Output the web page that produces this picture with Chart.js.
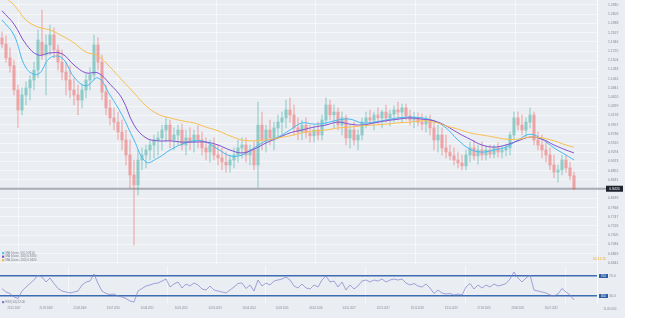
<!DOCTYPE html>
<html>
<head>
<meta charset="utf-8">
<script src="https://cdn.jsdelivr.net/npm/chart.js@4.4.1/dist/chart.umd.min.js"></script>
<style>
  html, body { margin: 0; padding: 0; background: #fff; }
  #wrap { position: relative; width: 651px; height: 318px; overflow: hidden; }
  #panel { position: absolute; left: 0; top: 0; width: 625px; height: 318px; background: #eaedf1; }
  #priceChart { position: absolute; left: 0; top: 0; }
  #rsiChart { position: absolute; left: 0; top: 265px; }
</style>
</head>
<body>
<div id="wrap">
  <div id="panel"></div>
  <canvas id="priceChart" width="625" height="265"></canvas>
  <canvas id="rsiChart" width="625" height="53"></canvas>
</div>
<script>
// candles (one per slot)
const opens = [
  1.204,1.189,1.156,1.137,1.079,1.031,1.067,1.084,1.103,1.127,
  1.194,1.163,1.187,1.211,1.175,1.146,1.122,1.103,1.079,1.067,
  1.055,1.079,1.103,1.115,1.187,1.146,1.074,1.036,1.012,1.002,
  0.978,0.959,0.923,0.875,0.851,0.911,0.923,0.935,0.947,0.959,
  0.964,0.983,0.995,0.959,0.971,0.983,0.947,0.964,0.954,0.971,
  0.959,0.940,0.930,0.947,0.923,0.916,0.906,0.899,0.911,0.923,
  0.940,0.947,0.923,0.935,0.899,0.995,0.959,0.983,0.964,0.988,
  1.002,1.012,1.031,1.019,0.988,0.978,0.995,0.976,0.969,0.983,
  0.971,1.007,1.043,1.019,1.026,0.995,1.012,0.964,0.983,0.959,
  0.971,1.002,1.012,1.007,1.019,1.012,1.026,1.012,1.021,1.031,
  1.026,1.036,1.017,1.007,1.012,1.002,0.997,1.007,0.988,0.959,
  0.971,0.940,0.930,0.921,0.911,0.904,0.897,0.923,0.940,0.921,
  0.935,0.923,0.935,0.925,0.940,0.930,0.935,0.940,0.971,1.012,
  0.995,0.983,1.002,1.019,0.959,0.947,0.935,0.923,0.899,0.882,
  0.887,0.911,0.892,0.873
];
const highs = [
  1.218,1.209,1.180,1.151,1.091,1.084,1.098,1.113,1.146,1.223,
  1.271,1.211,1.235,1.228,1.187,1.175,1.146,1.137,1.108,1.091,
  1.093,1.117,1.132,1.211,1.204,1.163,1.091,1.055,1.036,1.026,
  1.007,0.983,0.959,0.911,0.935,0.940,0.947,0.959,0.971,0.978,
  0.995,1.012,1.007,0.988,0.995,0.997,0.983,0.988,0.983,0.993,
  0.978,0.964,0.959,0.964,0.947,0.940,0.930,0.923,0.940,0.959,
  0.964,0.964,0.947,0.954,1.050,1.026,0.995,1.007,1.002,1.019,
  1.026,1.055,1.060,1.043,1.012,1.007,1.012,0.995,0.993,1.002,
  1.019,1.060,1.055,1.043,1.036,1.026,1.019,0.995,1.002,0.983,
  1.012,1.026,1.031,1.026,1.036,1.031,1.043,1.031,1.041,1.050,
  1.045,1.045,1.031,1.026,1.024,1.021,1.017,1.019,1.007,0.995,
  0.988,0.971,0.947,0.940,0.930,0.923,0.935,0.954,0.959,0.947,
  0.954,0.945,0.947,0.947,0.952,0.945,0.949,0.978,1.026,1.026,
  1.019,1.012,1.036,1.026,0.978,0.971,0.959,0.940,0.923,0.899,
  0.923,0.923,0.906,0.882
];
const lows = [
  1.180,1.146,1.122,1.067,0.988,1.019,1.043,1.055,1.079,1.108,
  1.151,1.067,1.163,1.156,1.127,1.103,1.067,1.060,1.043,1.019,
  1.036,1.060,1.079,1.103,1.127,1.055,1.019,0.995,0.983,0.959,
  0.935,0.899,0.844,0.707,0.827,0.887,0.892,0.911,0.916,0.923,
  0.935,0.954,0.940,0.935,0.947,0.935,0.923,0.935,0.930,0.940,
  0.923,0.911,0.906,0.911,0.899,0.887,0.882,0.882,0.892,0.906,
  0.916,0.906,0.899,0.887,0.846,0.935,0.930,0.947,0.935,0.964,
  0.971,0.988,1.002,0.971,0.959,0.959,0.964,0.954,0.954,0.959,
  0.959,0.995,1.007,0.988,0.983,0.971,0.947,0.940,0.947,0.935,
  0.959,0.988,0.995,0.983,0.995,0.988,1.002,0.993,1.002,1.007,
  1.002,1.007,0.995,0.988,0.993,0.983,0.978,0.971,0.935,0.930,
  0.923,0.916,0.911,0.899,0.892,0.887,0.887,0.906,0.911,0.901,
  0.911,0.911,0.916,0.916,0.918,0.916,0.921,0.923,0.959,0.983,
  0.971,0.966,0.988,0.947,0.935,0.916,0.906,0.887,0.868,0.858,
  0.875,0.882,0.863,0.839
];
const closes = [
  1.189,1.156,1.137,1.079,1.031,1.067,1.084,1.103,1.127,1.199,
  1.163,1.187,1.211,1.175,1.146,1.122,1.103,1.079,1.067,1.055,
  1.079,1.103,1.115,1.187,1.146,1.074,1.036,1.012,1.002,0.978,
  0.959,0.923,0.875,0.851,0.911,0.923,0.935,0.947,0.959,0.964,
  0.983,0.995,0.959,0.971,0.983,0.947,0.964,0.954,0.971,0.959,
  0.940,0.930,0.947,0.923,0.916,0.906,0.899,0.911,0.923,0.940,
  0.947,0.923,0.935,0.899,0.995,0.959,0.983,0.964,0.988,1.002,
  1.012,1.031,1.019,0.988,0.978,0.995,0.976,0.969,0.983,0.971,
  1.007,1.043,1.019,1.026,0.995,1.012,0.964,0.983,0.959,0.971,
  1.002,1.012,1.007,1.019,1.012,1.026,1.012,1.021,1.031,1.026,
  1.036,1.017,1.007,1.012,1.002,0.997,1.007,0.988,0.959,0.971,
  0.940,0.930,0.921,0.911,0.904,0.897,0.923,0.940,0.921,0.935,
  0.923,0.935,0.925,0.940,0.930,0.935,0.940,0.971,1.012,0.995,
  0.983,1.002,1.019,0.959,0.947,0.935,0.923,0.899,0.882,0.887,
  0.911,0.892,0.873,0.842
];

// moving averages, sampled every third candle
const maIdx = [0,3,6,9,12,15,18,21,24,27,30,33,36,39,42,45,48,51,54,57,60,63,66,69,72,75,78,81,84,87,90,93,96,99,102,105,108,111,114,117,120,123,126,129,132,135,138,141,143];
const ma50 = [
  1.247,1.211,1.132,1.117,1.156,1.156,1.110,1.089,1.108,1.067,
  1.019,0.959,0.906,0.916,0.935,0.949,0.957,0.954,0.937,0.921,
  0.923,0.940,0.957,0.966,0.983,1.000,0.997,1.000,1.007,1.009,
  1.000,1.002,1.007,1.012,1.014,1.012,1.005,0.988,0.959,0.937,
  0.930,0.935,0.942,0.959,0.973,0.961,0.940,0.923,0.911
];
const ma100 = [
  1.269,1.237,1.189,1.163,1.168,1.166,1.139,1.120,1.120,1.093,
  1.059,0.995,0.964,0.957,0.957,0.954,0.954,0.954,0.947,0.935,
  0.928,0.937,0.952,0.964,0.976,0.983,0.990,0.995,1.002,0.997,
  0.995,1.000,1.005,1.009,1.012,1.009,1.005,0.993,0.976,0.961,
  0.947,0.942,0.947,0.957,0.966,0.961,0.947,0.935,0.928
];
const ma200 = [
  1.307,1.283,1.247,1.230,1.223,1.209,1.192,1.170,1.161,1.134,
  1.103,1.072,1.041,1.021,1.012,1.005,1.000,0.990,0.981,0.969,
  0.959,0.957,0.959,0.964,0.969,0.976,0.981,0.983,0.988,0.990,
  0.993,0.995,0.997,1.000,1.002,1.005,1.002,0.993,0.985,0.976,
  0.971,0.966,0.961,0.961,0.966,0.964,0.957,0.947,0.942
];

const rsi14 = [
  45,38,35,28,25,40,48,55,62,72,
  68,58,66,55,45,40,38,36,38,40,
  52,58,60,74,55,40,35,33,34,30,
  28,25,20,18,40,45,50,52,55,56,
  60,64,48,54,58,46,54,50,56,52,
  44,42,50,42,40,38,36,42,48,55,
  56,45,52,40,62,50,56,52,60,62,
  64,68,62,50,46,54,46,44,52,48,
  62,70,58,60,48,58,42,52,44,50,
  60,62,58,62,60,64,58,62,64,62,
  64,56,52,55,50,48,54,46,35,42,
  36,34,35,32,34,32,48,55,44,52,
  46,52,48,54,50,52,55,64,78,66,
  58,66,72,42,40,38,36,32,30,34,
  45,38,32,22
];
const rsiLevels = [70, 30];

const priceTicks = [
  1.2830,1.2609,1.2388,1.2167,1.1946,1.1725,1.1504,1.1283,1.1062,1.0841,
  1.0620,1.0399,1.0178,0.9957,0.9736,0.9515,0.9294,0.9073,0.8852,0.8631,
  0.8410,0.8189,0.7968,0.7747,0.7526,0.7305,0.7084,0.6863,0.6642
];
const dateTickIdx = [3, 11, 19.5, 27.8, 36.3, 44.8, 53.3, 61.8, 70, 78.5, 86.8, 95.3, 103.8, 112.3, 120.5, 129, 137.3];
const dateLabels = [
  '23.10.2007','21.09.2008','22.08.2009','23.07.2010','20.06.2011','20.05.2012',
  '02.05.2013','09.04.2014','10.03.2015','08.02.2016','03.01.2017','23.12.2017',
  '28.11.2018','23.10.2019','27.09.2020','28.08.2021','26.07.2022'
];
const lastDateLabel = '11.09.2024';
const gridIdx = [16.5, 41.3, 65.8, 90.8, 115.8, 140.8];

const FONT = "'Liberation Sans', Arial, sans-serif";
const GRID = 'rgba(255,255,255,0.55)';
const AXIS_TEXT = '#858995';
const UP = 'rgba(38,166,154,0.30)';
const DOWN = 'rgba(239,83,80,0.30)';
const X_MIN = -0.5, X_MAX = 148.75;

Chart.defaults.font.family = FONT;

const candleColor = (c) => closes[c.dataIndex] >= opens[c.dataIndex] ? UP : DOWN;
const maLine = (vals, color) => ({
    type: 'line',
    data: maIdx.map((x, k) => ({ x: x, y: vals[k] })),
    borderColor: color,
    borderWidth: 1,
    pointRadius: 0,
    tension: 0.4,
    order: 0
});

const pricePlugin = {
    id: 'priceExtras',
    beforeDatasetsDraw(chart) {
        const { ctx, scales: { y } } = chart;
        const py = y.getPixelForValue(closes[closes.length - 1]);
        ctx.save();
        ctx.fillStyle = '#a8abb3';
        ctx.fillRect(0, py - 1, 607, 2);
        ctx.restore();
    },
    afterDraw(chart) {
        const { ctx, scales: { y } } = chart;
        const last = closes[closes.length - 1];
        const py = y.getPixelForValue(last);
        ctx.save();
        ctx.fillStyle = '#1f2330';
        ctx.fillRect(606, py - 3, 17, 6);
        ctx.fillStyle = '#ffffff';
        ctx.font = `3.4px ${FONT}`;
        ctx.textAlign = 'center';
        ctx.textBaseline = 'middle';
        ctx.fillText(last.toFixed(4), 614.5, py);

        ctx.fillStyle = '#f5a623';
        ctx.textAlign = 'right';
        ctx.fillText('01:11:15', 606, 259);

        // legend
        const rows = [
            ['MA (close, 50) ' + ma50[ma50.length - 1].toFixed(4), '#4fc3f7'],
            ['MA (close, 100) ' + ma100[ma100.length - 1].toFixed(4), '#7e57c2'],
            ['MA (close, 200) ' + ma200[ma200.length - 1].toFixed(4), '#f6b73c']
        ];
        ctx.textAlign = 'left';
        ctx.font = `3px ${FONT}`;
        rows.forEach((r, k) => {
            const ty = 253 + k * 3.6;
            ctx.fillStyle = r[1];
            ctx.fillRect(2, ty - 1, 2.2, 2.2);
            ctx.fillStyle = '#7a7e8a';
            ctx.fillText(r[0], 5.5, ty);
        });
        ctx.restore();
    }
};

new Chart(document.getElementById('priceChart'), {
    type: 'bar',
    data: {
        datasets: [
            maLine(ma200, '#f8bf4f'),
            maLine(ma100, '#8152cf'),
            maLine(ma50, '#45b9f0'),
            {
                data: lows.map((l, i) => ({ x: i, y: [l, highs[i]] })),
                backgroundColor: candleColor,
                barThickness: 1,
                grouped: false,
                order: 5
            },
            {
                data: opens.map((o, i) => ({ x: i, y: [o, closes[i]] })),
                backgroundColor: candleColor,
                barThickness: 3,
                grouped: false,
                order: 4
            }
        ]
    },
    options: {
        responsive: false,
        animation: false,
        events: [],
        layout: { padding: 0 },
        plugins: { legend: { display: false }, tooltip: { enabled: false } },
        scales: {
            x: {
                type: 'linear', min: X_MIN, max: X_MAX, offset: false,
                grid: { color: GRID, drawTicks: false },
                border: { display: false },
                ticks: { display: false },
                afterBuildTicks: s => { s.ticks = gridIdx.map(v => ({ value: v })); },
                afterFit: s => { s.height = 0; }
            },
            y: {
                position: 'right', min: 0.659, max: 1.295,
                grid: { color: GRID, drawTicks: false },
                border: { color: 'rgba(255,255,255,0.8)' },
                ticks: {
                    autoSkip: false, padding: 11, color: AXIS_TEXT,
                    font: { size: 3.4 },
                    callback: v => v.toFixed(4)
                },
                afterBuildTicks: s => { s.ticks = priceTicks.map(v => ({ value: v })); },
                afterFit: s => { s.width = 28; s.paddingTop = 0; s.paddingBottom = 0; }
            }
        }
    },
    plugins: [pricePlugin]
});

const rsiPlugin = {
    id: 'rsiExtras',
    afterDraw(chart) {
        const { ctx, scales: { y } } = chart;
        ctx.save();
        ctx.font = `2.6px ${FONT}`;
        ctx.textAlign = 'center';
        ctx.textBaseline = 'middle';
        rsiLevels.forEach(l => {
            const py = y.getPixelForValue(l);
            ctx.fillStyle = '#2d5fa6';
            ctx.fillRect(599, py - 2, 9, 4);
            ctx.fillStyle = '#ffffff';
            ctx.fillText(l.toFixed(1), 603.5, py);
        });
        ctx.fillStyle = AXIS_TEXT;
        ctx.fillText(lastDateLabel, 610, 44);

        ctx.textAlign = 'left';
        ctx.font = `3px ${FONT}`;
        ctx.fillStyle = '#7e7fd0';
        ctx.fillRect(2, 36, 2.2, 2.2);
        ctx.fillStyle = '#7a7e8a';
        ctx.fillText('RSI (14) ' + rsi14[rsi14.length - 1].toFixed(2), 5.5, 37);
        ctx.restore();
    }
};

new Chart(document.getElementById('rsiChart'), {
    type: 'line',
    data: {
        datasets: [{
            data: rsi14.map((v, i) => ({ x: i, y: v })),
            borderColor: '#7e7fd0',
            borderWidth: 0.7,
            pointRadius: 0,
            tension: 0
        }]
    },
    options: {
        responsive: false,
        animation: false,
        events: [],
        layout: { padding: { top: 1, left: 0, right: 0, bottom: 0 } },
        plugins: { legend: { display: false }, tooltip: { enabled: false } },
        scales: {
            x: {
                type: 'linear', min: X_MIN, max: X_MAX, offset: false,
                grid: { display: false, drawTicks: false },
                border: { display: false },
                ticks: {
                    autoSkip: false, maxRotation: 0, padding: 4, color: AXIS_TEXT,
                    font: { size: 2.6 },
                    callback: (v, i) => dateLabels[i]
                },
                afterBuildTicks: s => { s.ticks = dateTickIdx.map(v => ({ value: v })); },
                afterFit: s => { s.height = 15; s.paddingLeft = 0; s.paddingRight = 0; }
            },
            xg: {
                type: 'linear', position: 'bottom', min: X_MIN, max: X_MAX, offset: false,
                grid: { color: GRID, drawTicks: false },
                border: { display: false },
                ticks: { display: false },
                afterBuildTicks: s => { s.ticks = gridIdx.map(v => ({ value: v })); },
                afterFit: s => { s.height = 0; }
            },
            y: {
                position: 'right', min: 16, max: 90,
                grid: { color: '#3c6db2', lineWidth: 1.6, drawTicks: false },
                border: { color: 'rgba(255,255,255,0.8)' },
                ticks: {
                    autoSkip: false, padding: 12, color: AXIS_TEXT,
                    font: { size: 3.4 },
                    callback: v => v.toFixed(1)
                },
                afterBuildTicks: s => { s.ticks = rsiLevels.map(v => ({ value: v })); },
                afterFit: s => { s.width = 28; s.paddingTop = 0; s.paddingBottom = 0; }
            }
        }
    },
    plugins: [rsiPlugin]
});
</script>
</body>
</html>
